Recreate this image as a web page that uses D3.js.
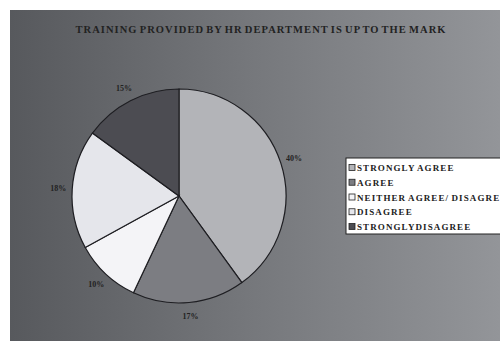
<!DOCTYPE html>
<html>
<head>
<meta charset="utf-8">
<script src="https://cdn.jsdelivr.net/npm/d3@7/dist/d3.min.js"></script>
<style>
  html, body { margin: 0; padding: 0; background: #fff; }
  svg { display: block; }
  text { font-family: "Liberation Serif", "DejaVu Serif", serif; font-weight: bold; fill: #222; }
</style>
</head>
<body>
<svg id="chart" width="500" height="341"></svg>
<script>
const title = "TRAINING PROVIDED BY HR DEPARTMENT IS UP TO THE MARK";
const categories = ["STRONGLY AGREE", "AGREE", "NEITHER AGREE/ DISAGREE", "DISAGREE", "STRONGLYDISAGREE"];
const percents = [40, 17, 10, 18, 15];
const sliceColors = ["#b3b4b8", "#7c7d82", "#f4f4f7", "#e5e6eb", "#4c4c52"];

const svg = d3.select("#chart");
const W = 500, H = 341;

// Chart area background: horizontal grey gradient
const defs = svg.append("defs");
const grad = defs.append("linearGradient").attr("id", "bg").attr("x1", 0).attr("x2", 1).attr("y1", 0).attr("y2", 0);
grad.append("stop").attr("offset", "0%").attr("stop-color", "#57595d");
grad.append("stop").attr("offset", "50%").attr("stop-color", "#76787c");
grad.append("stop").attr("offset", "100%").attr("stop-color", "#939599");

svg.append("rect").attr("x", 10).attr("y", 10).attr("width", W - 10).attr("height", H - 10).attr("fill", "url(#bg)");

// Title
svg.append("text")
  .attr("x", 261).attr("y", 33)
  .attr("text-anchor", "middle")
  .attr("font-size", 10.5)
  .attr("letter-spacing", 1.05)
  .attr("word-spacing", -1.5)
  .attr("fill", "#2a2a2a")
  .text(title);

// Pie
const cx = 179, cy = 196, r = 107;
const pie = d3.pie().sort(null).value(d => d)(percents);
const arc = d3.arc().innerRadius(0).outerRadius(r);
const g = svg.append("g").attr("transform", `translate(${cx},${cy})`);
g.selectAll("path.slice")
  .data(pie)
  .join("path")
  .attr("class", "slice")
  .attr("d", arc)
  .attr("fill", (d, i) => sliceColors[i])
  .attr("stroke", "#1e1e22")
  .attr("stroke-width", 1.2);

// Percentage labels outside the slices
const labelArc = d3.arc().innerRadius(r + 14).outerRadius(r + 14);
g.selectAll("text.pct")
  .data(pie)
  .join("text")
  .attr("class", "pct")
  .attr("transform", d => `translate(${labelArc.centroid(d)})`)
  .attr("text-anchor", "middle")
  .attr("dy", "0.35em")
  .attr("font-size", 8)
  .text(d => d.data + "%");

// Legend (its right side runs past the chart edge)
const lg = svg.append("g").attr("transform", "translate(346,158)");
lg.append("rect").attr("x", 0).attr("y", 0).attr("width", 170).attr("height", 76)
  .attr("fill", "#ffffff").attr("stroke", "#222").attr("stroke-width", 1);
const rowY = d3.scalePoint().domain(d3.range(categories.length)).range([10, 69]);
const rows = lg.selectAll("g.row").data(categories).join("g").attr("class", "row")
  .attr("transform", (d, i) => `translate(3,${rowY(i)})`);
rows.append("rect").attr("x", 0).attr("y", -3.5).attr("width", 6).attr("height", 6)
  .attr("fill", (d, i) => sliceColors[i]).attr("stroke", "#222").attr("stroke-width", 0.8);
rows.append("text").attr("x", 8).attr("y", 0).attr("dy", "0.35em")
  .attr("font-size", 9)
  .attr("letter-spacing", 1.1)
  .attr("word-spacing", -1)
  .text(d => d);
</script>
</body>
</html>
